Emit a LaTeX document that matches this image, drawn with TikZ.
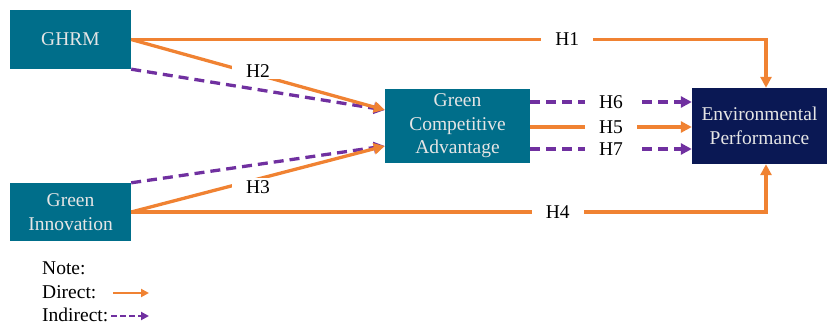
\documentclass[tikz,border=0pt]{standalone}
\usepackage{fontspec}
\setmainfont{Liberation Serif}
\usetikzlibrary{arrows.meta,calc}
\definecolor{boxteal}{RGB}{0,110,138}
\definecolor{boxnavy}{RGB}{10,24,84}
\definecolor{dirorange}{RGB}{240,130,50}
\definecolor{indpurple}{RGB}{112,48,160}
\tikzset{
  box/.style={draw=none, fill=boxteal, text=white!90!black, align=center,
    inner sep=0pt, font=\fontsize{19.5}{23.5}\selectfont},
  navybox/.style={box, fill=boxnavy},
  direct/.style={draw=dirorange, line width=3.3pt,
    -{Triangle[length=11pt,width=11pt]}},
  indirect/.style={draw=indpurple, line width=3.3pt, dash pattern=on 10pt off 6pt,
    -{Triangle[length=11pt,width=11pt]}},
  lbl/.style={fill=white, inner xsep=14pt, inner ysep=2pt,
    font=\fontsize{19.5}{22}\selectfont},
  legtext/.style={anchor=base west, inner sep=0pt, font=\fontsize{19.5}{22}\selectfont},
  legdirect/.style={draw=dirorange, line width=2.2pt,
    -{Triangle[length=8pt,width=8pt]}},
  legindirect/.style={draw=indpurple, line width=2.2pt, dash pattern=on 6pt off 3pt,
    -{Triangle[length=8pt,width=8pt]}}
}
\begin{document}
\begin{tikzpicture}[x=1pt,y=-1pt]
\useasboundingbox (0,0) rectangle (827,324);

% constructs
\node[box, minimum width=121pt, minimum height=59pt] (ghrm) at (70.5,39.5) {GHRM};
\node[box, minimum width=121pt, minimum height=58pt] (gi) at (70.5,212) {Green\\Innovation};
\node[box, minimum width=145pt, minimum height=74pt] (gca) at (457.5,126) {Green\\Competitive\\Advantage};
\node[navybox, minimum width=135pt, minimum height=76pt] (ep) at (759.5,126) {Environmental\\Performance};

% bend points and docking points
\coordinate (h1bend) at (766,39.5);
\coordinate (h4bend) at (766,212);
\coordinate (gcaupper) at ($(gca.west)+(0,-16)$);
\coordinate (gcalower) at ($(gca.west)+(0,20)$);

% indirect paths into the mediator
\draw[indirect] (ghrm.south east) -- (gcaupper);
\draw[indirect] (gi.north east) -- (gcalower);

% direct paths into the mediator
\draw[direct] (ghrm.east) -- node[lbl, pos=0.5, yshift=4pt] {H2} (gcaupper);
\draw[direct] (gi.east) -- node[lbl, pos=0.5, yshift=-8pt] {H3} (gcalower);

% direct paths into the outcome
\draw[direct] (ghrm.east) -- node[lbl, pos=0.687] {H1} (h1bend) -- (h1bend |- ep.north);
\draw[direct] (gi.east) -- node[lbl, pos=0.672] {H4} (h4bend) -- (h4bend |- ep.south);

% mediator to outcome
\draw[indirect] ($(gca.east)+(0,-24)$) -- node[lbl, pos=0.5] {H6} ($(ep.west)+(0,-24)$);
\draw[direct] ($(gca.east)+(0,1)$) -- node[lbl, pos=0.5] {H5} ($(ep.west)+(0,1)$);
\draw[indirect] ($(gca.east)+(0,23)$) -- node[lbl, pos=0.5] {H7} ($(ep.west)+(0,23)$);

% legend
\node[legtext] (note) at (42,274) {Note:};
\node[legtext] (dirtxt) at (42,298.5) {Direct:};
\node[legtext] (indtxt) at (42,321) {Indirect:};
\coordinate (dirA) at (113,293);
\coordinate (dirB) at (149,293);
\coordinate (indA) at (111,316);
\coordinate (indB) at (149,316);
\draw[legdirect] (dirA) -- (dirB);
\draw[legindirect] (indA) -- (indB);
\end{tikzpicture}
\end{document}
